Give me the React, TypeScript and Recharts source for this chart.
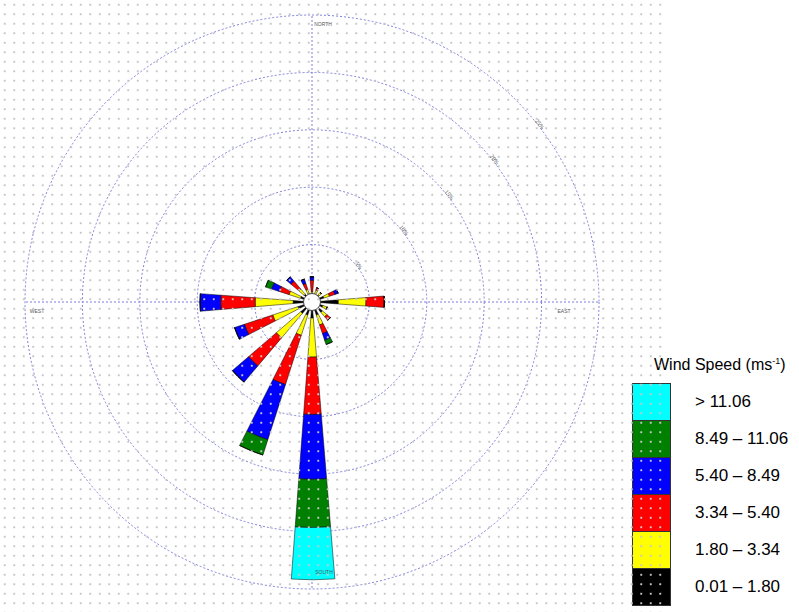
import React from 'react';
import { RadialBarChart, RadialBar, PolarAngleAxis, PolarRadiusAxis, PolarGrid } from 'recharts';

// 16 compass sectors, clockwise from north
const directions = ['N', 'NNE', 'NE', 'ENE', 'E', 'ESE', 'SE', 'SSE', 'S', 'SSW', 'SW', 'WSW', 'W', 'WNW', 'NW', 'NNW'];

// frequency (%) per speed class
const calm = [0.7, 0.7, 0.8, 1.1, 2.3, 1.0, 1.2, 1.2, 1.4, 1.2, 1.3, 1.3, 1.65, 1.05, 0.9, 0.75];
const light = [0.2, 0.4, 0.3, 0.5, 2.4, 0.4, 0.5, 0.9, 3.4, 1.85, 2.8, 2.3, 3.3, 1.05, 0.6, 0.4];
const moderate = [1.0, 0.2, 0, 0.5, 1.6, 0, 0.4, 0.8, 5.0, 4.5, 3.2, 2.6, 3.0, 0.9, 0.9, 0.55];
const fresh = [0.3, 0, 0, 0.3, 0, 0, 0, 0.6, 5.65, 5.05, 1.85, 0.9, 1.8, 0.7, 0.5, 0.4];
const strong = [0, 0, 0, 0, 0, 0, 0, 0.4, 4.2, 1.4, 0, 0, 0, 0.55, 0, 0];
const gale = [0, 0, 0, 0, 0, 0, 0, 0, 4.55, 0, 0, 0, 0, 0, 0, 0];

const speedBins = ['0.01 \u2013 1.80', '1.80 \u2013 3.34', '3.34 \u2013 5.40', '5.40 \u2013 8.49', '8.49 \u2013 11.06', '> 11.06'];
const binColors = ['#000000', '#ffff00', '#ff0000', '#0000ff', '#008000', '#00ffff'];
const ringTicks = [5, 10, 15, 20, 25];

const seriesKeys = ['calm', 'light', 'moderate', 'fresh', 'strong', 'gale'];
const seriesValues = [calm, light, moderate, fresh, strong, gale];

const data = directions.map((dir, i) => {
  const row: Record<string, string | number> = { dir };
  seriesKeys.forEach((k, j) => {
    row[k] = seriesValues[j][i];
  });
  return row;
});

const CX = 312;
const CY = 302;

const tinyLabel: React.CSSProperties = {
  position: 'absolute',
  fontFamily: 'Arial, "Liberation Sans", sans-serif',
  fontSize: 5,
  color: '#555',
  transform: 'translate(-50%, -50%)',
  whiteSpace: 'nowrap',
};

function SpeedLegend() {
  const rows = speedBins.map((label, i) => ({ label, color: binColors[i] })).reverse();
  return (
    <div style={{ position: 'absolute', left: 632, top: 356, fontFamily: 'Arial, "Liberation Sans", sans-serif', color: '#000' }}>
      <div style={{ position: 'absolute', left: 22, top: 0, fontSize: 16, whiteSpace: 'nowrap' }}>
        Wind Speed (ms<sup style={{ fontSize: 9 }}>-1</sup>)
      </div>
      {rows.map((r, i) => (
        <div key={r.label}>
          <div
            style={{
              position: 'absolute',
              left: 0,
              top: 27 + i * 37,
              width: 37,
              height: 36,
              background: r.color,
              border: '1px solid #333',
            }}
          />
          <div style={{ position: 'absolute', left: 63, top: 36 + i * 37, fontSize: 17, whiteSpace: 'nowrap' }}>{r.label}</div>
        </div>
      ))}
    </div>
  );
}

export default function App() {
  return (
    <div style={{ position: 'absolute', left: 0, top: 0, width: 799, height: 612, background: '#fff', overflow: 'hidden' }}>
      <RadialBarChart
        width={799}
        height={612}
        data={data}
        cx={CX}
        cy={CY}
        innerRadius={0}
        outerRadius={287}
        startAngle={78.75}
        endAngle={-281.25}
        layout="centric"
        barCategoryGap="31%"
        margin={{ top: 0, right: 0, bottom: 0, left: 0 }}
      >
        <PolarGrid gridType="circle" polarAngles={[0, 90, 180, 270]} stroke="#7f7fdc" strokeDasharray="2 2" />
        <PolarAngleAxis type="category" dataKey="dir" tick={false} axisLine={false} tickLine={false} />
        <PolarRadiusAxis
          type="number"
          domain={[0, 25]}
          ticks={ringTicks}
          angle={38}
          orientation="middle"
          axisLine={false}
          tickLine={false}
          tick={{ fontSize: 6, fill: '#444' }}
          tickFormatter={(v) => `${v}%`}
        />
        {seriesKeys.map((k, j) => (
          <RadialBar key={k} dataKey={k} stackId="w" fill={binColors[j]} stroke="#000" strokeWidth={0.5} isAnimationActive={false} />
        ))}
      </RadialBarChart>

      <div
        style={{
          position: 'absolute',
          left: CX - 9,
          top: CY - 9,
          width: 16,
          height: 16,
          borderRadius: '50%',
          background: '#fff',
          border: '1px solid #444',
        }}
      />

      <div style={{ ...tinyLabel, left: 323, top: 24 }}>NORTH</div>
      <div style={{ ...tinyLabel, left: 324, top: 572 }}>SOUTH</div>
      <div style={{ ...tinyLabel, left: 37, top: 311 }}>WEST</div>
      <div style={{ ...tinyLabel, left: 564, top: 311 }}>EAST</div>

      <SpeedLegend />

      {/* dotted paper overlay */}
      <div
        style={{
          position: 'absolute',
          left: 0,
          top: 0,
          width: 668,
          height: 612,
          pointerEvents: 'none',
          backgroundImage: 'radial-gradient(circle, #c6c6c6 0.8px, transparent 1.2px)',
          backgroundSize: '9.5px 9.5px',
        }}
      />
    </div>
  );
}
